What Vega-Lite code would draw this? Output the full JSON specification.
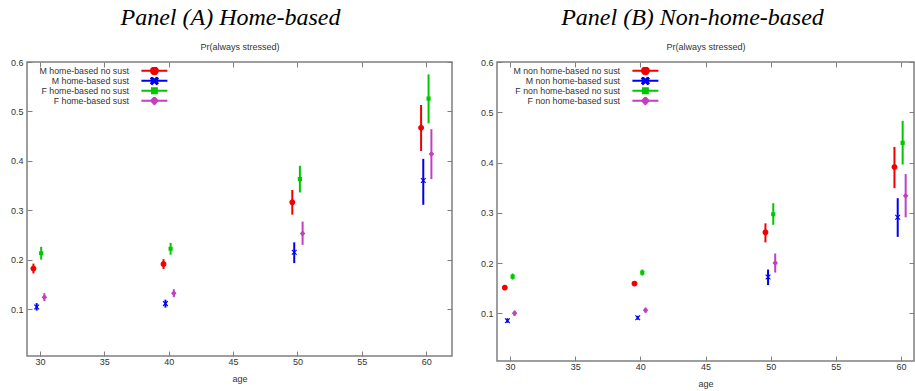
{
  "$schema": "https://vega.github.io/schema/vega-lite/v6.json",
  "padding": {"left": 9, "top": 4, "right": 3, "bottom": 2},
  "background": "white",
  "data": {"values": [
    {"panel": "A", "series": "M home-based no sust", "age": 29.5, "p": 0.182, "lo": 0.172, "hi": 0.192},
    {"panel": "A", "series": "M home-based no sust", "age": 39.6, "p": 0.191, "lo": 0.181, "hi": 0.201},
    {"panel": "A", "series": "M home-based no sust", "age": 49.6, "p": 0.316, "lo": 0.291, "hi": 0.341},
    {"panel": "A", "series": "M home-based no sust", "age": 59.6, "p": 0.467, "lo": 0.42, "hi": 0.513},
    {"panel": "A", "series": "M home-based  sust", "age": 29.75, "p": 0.104, "lo": 0.097, "hi": 0.112},
    {"panel": "A", "series": "M home-based  sust", "age": 39.75, "p": 0.111, "lo": 0.103, "hi": 0.119},
    {"panel": "A", "series": "M home-based  sust", "age": 49.75, "p": 0.215, "lo": 0.193, "hi": 0.235},
    {"panel": "A", "series": "M home-based  sust", "age": 59.77, "p": 0.36, "lo": 0.311, "hi": 0.404},
    {"panel": "A", "series": "F home-based no sust", "age": 30.1, "p": 0.213, "lo": 0.2, "hi": 0.226},
    {"panel": "A", "series": "F home-based no sust", "age": 40.15, "p": 0.222, "lo": 0.21, "hi": 0.234},
    {"panel": "A", "series": "F home-based no sust", "age": 50.19, "p": 0.363, "lo": 0.336, "hi": 0.39},
    {"panel": "A", "series": "F home-based no sust", "age": 60.18, "p": 0.526, "lo": 0.476, "hi": 0.575},
    {"panel": "A", "series": "F home-based  sust", "age": 30.35, "p": 0.124, "lo": 0.116, "hi": 0.132},
    {"panel": "A", "series": "F home-based  sust", "age": 40.4, "p": 0.132, "lo": 0.124, "hi": 0.14},
    {"panel": "A", "series": "F home-based  sust", "age": 50.4, "p": 0.253, "lo": 0.23, "hi": 0.277},
    {"panel": "A", "series": "F home-based  sust", "age": 60.4, "p": 0.414, "lo": 0.363, "hi": 0.464},
    {"panel": "B", "series": "M non home-based no sust", "age": 29.6, "p": 0.151, "lo": 0.147, "hi": 0.155},
    {"panel": "B", "series": "M non home-based no sust", "age": 39.55, "p": 0.159, "lo": 0.155, "hi": 0.163},
    {"panel": "B", "series": "M non home-based no sust", "age": 49.6, "p": 0.261, "lo": 0.241, "hi": 0.279},
    {"panel": "B", "series": "M non home-based no sust", "age": 59.5, "p": 0.391, "lo": 0.349, "hi": 0.431},
    {"panel": "B", "series": "M non home-based  sust", "age": 29.8, "p": 0.085, "lo": 0.081, "hi": 0.09},
    {"panel": "B", "series": "M non home-based  sust", "age": 39.8, "p": 0.091, "lo": 0.087, "hi": 0.095},
    {"panel": "B", "series": "M non home-based  sust", "age": 49.8, "p": 0.172, "lo": 0.156, "hi": 0.187},
    {"panel": "B", "series": "M non home-based  sust", "age": 59.75, "p": 0.291, "lo": 0.252, "hi": 0.329},
    {"panel": "B", "series": "F non home-based no sust", "age": 30.2, "p": 0.173, "lo": 0.167, "hi": 0.179},
    {"panel": "B", "series": "F non home-based no sust", "age": 40.15, "p": 0.181, "lo": 0.175, "hi": 0.187},
    {"panel": "B", "series": "F non home-based no sust", "age": 50.2, "p": 0.297, "lo": 0.276, "hi": 0.319},
    {"panel": "B", "series": "F non home-based no sust", "age": 60.13, "p": 0.439, "lo": 0.396, "hi": 0.483},
    {"panel": "B", "series": "F non home-based  sust", "age": 30.35, "p": 0.1, "lo": 0.095, "hi": 0.105},
    {"panel": "B", "series": "F non home-based  sust", "age": 40.4, "p": 0.106, "lo": 0.101, "hi": 0.111},
    {"panel": "B", "series": "F non home-based  sust", "age": 50.35, "p": 0.2, "lo": 0.181, "hi": 0.219},
    {"panel": "B", "series": "F non home-based  sust", "age": 60.36, "p": 0.334, "lo": 0.291, "hi": 0.377}
  ]},
  "spacing": 25,
  "resolve": {"scale": {"x": "independent", "y": "independent", "fill": "independent", "stroke": "independent", "shape": "independent"}, "legend": {"fill": "independent", "stroke": "independent", "shape": "independent"}},
  "hconcat": [
    {
      "width": 425,
      "height": 294,
      "title": {"text": "Panel (A) Home-based", "dx": -9},
      "transform": [{"filter": "datum.panel === 'A'"}],
      "resolve": {"axis": {"x": "independent", "y": "independent"}},
      "layer": [
        {
          "mark": {"type": "rule", "strokeWidth": 2},
          "encoding": {
            "x": {"field": "age", "type": "quantitative", "axis": {"orient": "top", "labels": false, "title": "Pr(always stressed)", "titlePadding": 10, "values": [30, 35, 40, 45, 50, 55, 60]}},
            "y": {"field": "lo", "type": "quantitative", "axis": {"orient": "right", "labels": false, "title": null, "values": [0.1, 0.2, 0.3, 0.4, 0.5, 0.6]}},
            "y2": {"field": "hi"},
            "stroke": {"field": "series", "type": "nominal",
              "scale": {"domain": ["M home-based no sust", "M home-based  sust", "F home-based no sust", "F home-based  sust"], "range": ["#f00000", "#0000f0", "#00c800", "#c040c0"]},
              "legend": {"orient": "none", "legendX": 110, "legendY": 5, "encode": {"entries": {"update": {"width": {"value": 60}}}}}}
          }
        },
        {
          "mark": {"type": "point", "filled": true, "opacity": 1, "size": 26},
          "encoding": {
            "x": {"field": "age", "type": "quantitative", "scale": {"domain": [29, 62], "nice": false, "zero": false}, "axis": {"orient": "bottom", "title": "age", "labelPadding": 6, "titlePadding": 8, "values": [30, 35, 40, 45, 50, 55, 60]}},
            "y": {"field": "p", "type": "quantitative", "scale": {"domain": [0.005, 0.6], "nice": false, "zero": false}, "axis": {"orient": "left", "title": null, "format": ".1f", "values": [0.1, 0.2, 0.3, 0.4, 0.5, 0.6]}},
            "fill": {"field": "series", "type": "nominal",
              "scale": {"domain": ["M home-based no sust", "M home-based  sust", "F home-based no sust", "F home-based  sust"], "range": ["#f00000", "#0000f0", "#00c800", "#c040c0"]},
              "legend": {"orient": "none", "legendX": 110, "legendY": 5, "encode": {"entries": {"update": {"width": {"value": 60}}}}}},
            "shape": {"field": "series", "type": "nominal",
              "scale": {"domain": ["M home-based no sust", "M home-based  sust", "F home-based no sust", "F home-based  sust"], "range": [
                "M-4.33,0H4.33M1.17,0L1.013,0.585L0.585,1.013L0,1.17L-0.585,1.013L-1.013,0.585L-1.17,0L-1.013,-0.585L-0.585,-1.013L0,-1.17L0.585,-1.013L1.013,-0.585Z",
                "M-4.33,0H4.33M-0.78,1.08L0,0.31L0.78,1.08L1.08,0.78L0.31,0L1.08,-0.78L0.78,-1.08L0,-0.31L-0.78,-1.08L-1.08,-0.78L-0.31,0L-1.08,0.78Z",
                "M-4.33,0H4.33M-0.82,-0.82H0.82V0.82H-0.82Z",
                "M-4.33,0H4.33M0,-1.18L1.08,0L0,1.18L-1.08,0Z"]},
              "legend": {"orient": "none", "legendX": 110, "legendY": 5, "encode": {"entries": {"update": {"width": {"value": 60}}}}}}
          }
        }
      ]
    },
    {
      "width": 417,
      "height": 299,
      "title": {"text": "Panel (B) Non-home-based", "dx": -13},
      "transform": [{"filter": "datum.panel === 'B'"}],
      "resolve": {"axis": {"x": "independent", "y": "independent"}},
      "layer": [
        {
          "mark": {"type": "rule", "strokeWidth": 2},
          "encoding": {
            "x": {"field": "age", "type": "quantitative", "axis": {"orient": "top", "labels": false, "title": "Pr(always stressed)", "titlePadding": 10, "values": [30, 35, 40, 45, 50, 55, 60]}},
            "y": {"field": "lo", "type": "quantitative", "axis": {"orient": "right", "labels": false, "title": null, "values": [0.1, 0.2, 0.3, 0.4, 0.5, 0.6]}},
            "y2": {"field": "hi"},
            "stroke": {"field": "series", "type": "nominal",
              "scale": {"domain": ["M non home-based no sust", "M non home-based  sust", "F non home-based no sust", "F non home-based  sust"], "range": ["#f00000", "#0000f0", "#00c800", "#c040c0"]},
              "legend": {"orient": "none", "legendX": 131, "legendY": 5, "encode": {"entries": {"update": {"width": {"value": 60}}}}}}
          }
        },
        {
          "mark": {"type": "point", "filled": true, "opacity": 1, "size": 26},
          "encoding": {
            "x": {"field": "age", "type": "quantitative", "scale": {"domain": [29, 61], "nice": false, "zero": false}, "axis": {"orient": "bottom", "title": "age", "labelPadding": 6, "titlePadding": 8, "values": [30, 35, 40, 45, 50, 55, 60]}},
            "y": {"field": "p", "type": "quantitative", "scale": {"domain": [0.005, 0.6], "nice": false, "zero": false}, "axis": {"orient": "left", "title": null, "format": ".1f", "values": [0.1, 0.2, 0.3, 0.4, 0.5, 0.6]}},
            "fill": {"field": "series", "type": "nominal",
              "scale": {"domain": ["M non home-based no sust", "M non home-based  sust", "F non home-based no sust", "F non home-based  sust"], "range": ["#f00000", "#0000f0", "#00c800", "#c040c0"]},
              "legend": {"orient": "none", "legendX": 131, "legendY": 5, "encode": {"entries": {"update": {"width": {"value": 60}}}}}},
            "shape": {"field": "series", "type": "nominal",
              "scale": {"domain": ["M non home-based no sust", "M non home-based  sust", "F non home-based no sust", "F non home-based  sust"], "range": [
                "M-4.33,0H4.33M1.17,0L1.013,0.585L0.585,1.013L0,1.17L-0.585,1.013L-1.013,0.585L-1.17,0L-1.013,-0.585L-0.585,-1.013L0,-1.17L0.585,-1.013L1.013,-0.585Z",
                "M-4.33,0H4.33M-0.78,1.08L0,0.31L0.78,1.08L1.08,0.78L0.31,0L1.08,-0.78L0.78,-1.08L0,-0.31L-0.78,-1.08L-1.08,-0.78L-0.31,0L-1.08,0.78Z",
                "M-4.33,0H4.33M-0.82,-0.82H0.82V0.82H-0.82Z",
                "M-4.33,0H4.33M0,-1.18L1.08,0L0,1.18L-1.08,0Z"]},
              "legend": {"orient": "none", "legendX": 131, "legendY": 5, "encode": {"entries": {"update": {"width": {"value": 60}}}}}}
          }
        }
      ]
    }
  ],
  "config": {
    "font": "Liberation Sans",
    "view": {"stroke": "#7f7f7f", "strokeWidth": 1.5},
    "title": {"font": "Liberation Serif", "fontStyle": "italic", "fontWeight": "normal", "fontSize": 24, "color": "#000000", "anchor": "middle", "offset": 13},
    "axis": {
      "domain": false, "grid": false,
      "tickSize": -5, "tickColor": "#7f7f7f", "tickWidth": 1,
      "labelFont": "Liberation Sans", "labelFontSize": 9, "labelColor": "#333333", "labelPadding": 9,
      "titleFont": "Liberation Sans", "titleFontSize": 9, "titleFontWeight": "normal", "titleColor": "#333333", "titlePadding": 7
    },
    "legend": {
      "title": null, "padding": 0, "offset": 0,
      "labelAlign": "right", "labelOffset": -29.8, "symbolOffset": 13,
      "labelFont": "Liberation Sans", "labelFontSize": 8.8, "labelColor": "#333333",
      "symbolSize": 36, "symbolStrokeWidth": 2, "rowPadding": 0, "clipHeight": 7.6, "symbolOpacity": 1
    }
  }
}
